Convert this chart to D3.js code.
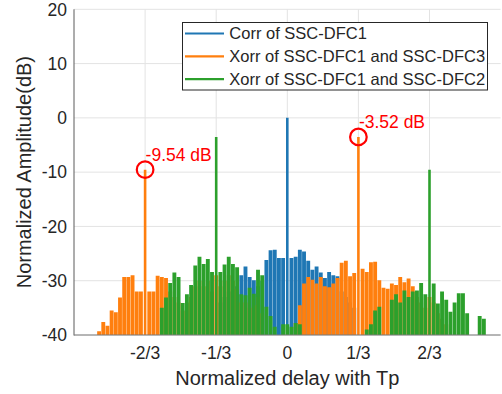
<!DOCTYPE html>
<html>
<head>
<meta charset="utf-8">
<script src="https://cdn.jsdelivr.net/npm/d3@7"></script>
<style>
  body { margin: 0; background: #fff; }
  text { font-family: "Liberation Sans", Arial, sans-serif; fill: #262626; }
  .grid line { stroke: #e3e3e3; stroke-width: 1; }
</style>
</head>
<body>
<script>
//W and H
var w = 502;
var h = 394;

//lag grid: one sample every 1/51 of Tp
var lagStep = 1 / 51;

//Corr of SSC-DFC1, first lag index -16
var corrStart = -16;
var corrVals = [-34, -33, -32, -31.5, -31, -29, -27.4, -29.3, -29.9, -31, -30,
    -26.2, -24.4, -24.3, -25.8, -25.8, 0, -25.8, -25.6, -24.3, -24.6, -26.3,
    -28, -27.4, -28.5, -29.5, -28.4, -29, -29.2, -32, -33, -34, -35];

//Xorr of SSC-DFC1 and SSC-DFC3, first lag index -45
var xorr13Start = -45;
var xorr13Vals = [-39.3, -37.6, -38.3, -35.5, -35.8, -33.1, -29.3, -29.3, -29, -32,
    -32, -9.54, -32, -32, -29.1, -29.3, -29.5,
    -32, -33, -34, -35.5, -34, -33, -31, -30, -31, -30, -32, -29, -31, -30, -29,
    -30, -31.5, -34, -34, -35, -34.5, -33, -36,
    -40, -40, -40, -40, -40, -40, -40,
    -37.8, -34.5, -30.5, -29.3, -29.8, -30.5, -29.3, -31, -31.2, -30.5, -29.5,
    -26.7, -26.3, -29.2, -28.6, -3.52, -27.8, -28.4, -26.6, -26.5, -29.9, -31.3,
    -31.5, -30.5, -30.8, -29.3, -30.3, -29.6, -31,
    -33, -34, -35, -33, -34, -36, -37, -38];

//Xorr of SSC-DFC1 and SSC-DFC2, first lag index -30
var xorr12Start = -30;
var xorr12Vals = [-35, -33.1, -30.4, -28.5, -29.3, -34.1, -32.5, -30.8, -27.2, -25.6,
    -26.9, -26, -28.4, -3.52, -28.4, -27, -25.6, -26.9, -27.5, -32.5, -32.7,
    -31.3, -32.4, -28, -29, -34.8, -36.5, -38.5, -40, -38, -38, -38.5, -37.8, -38,
    -40, -40, -40, -40, -40, -40, -40, -40, -40, -40, -40, -40, -40, -40, -40, -39,
    -38, -35.5, -34.8, -40, -40, -33.5, -32.5, -34, -31.8, -33, -32, -31.8, -30.4,
    -32.5, -9.54, -30.5, -34.2, -32, -33.5, -35.7, -34, -32.3, -32.3, -36, -40,
    -40, -36.5, -37];

var seriesNames = ["Corr of SSC-DFC1", "Xorr of SSC-DFC1 and SSC-DFC3", "Xorr of SSC-DFC1 and SSC-DFC2"];
var seriesColors = ["#1f77b4", "#ff7f0e", "#2ca02c"];

//ticks
var xTickVals = [-2 / 3, -1 / 3, 0, 1 / 3, 2 / 3];
var xTickLabels = ["-2/3", "-1/3", "0", "1/3", "2/3"];
var yTickVals = [-40, -30, -20, -10, 0, 10, 20];

//marked peaks
var markDelay = [-2 / 3, 1 / 3];
var markAmp = [-9.54, -3.52];
var markText = ["-9.54 dB", "-3.52 dB"];

//build points from start index + values
var toPoints = function(start, vals) {
    return vals.map(function(v, i) {
        return { delay: (start + i) * lagStep, amp: v };
    });
};
var series = [
    toPoints(corrStart, corrVals),
    toPoints(xorr13Start, xorr13Vals),
    toPoints(xorr12Start, xorr12Vals)
];

//Scales
var x = d3.scaleLinear().domain([-1, 1]).range([74, 500.6]);
var y = d3.scaleLinear().domain([-40, 20]).range([335, 9.3]);

var svg = d3.select("body").append("svg")
    .attr("width", w)
    .attr("height", h);

svg.append("defs").append("clipPath").attr("id", "plotClip")
    .append("rect")
    .attr("x", x(-1)).attr("y", y(20))
    .attr("width", x(1) - x(-1)).attr("height", y(-40) - y(20));

//grid
var grid = svg.append("g").attr("class", "grid");
grid.selectAll(".gx").data(xTickVals).enter().append("line")
    .attr("x1", function(d) { return x(d); })
    .attr("x2", function(d) { return x(d); })
    .attr("y1", y(-40)).attr("y2", y(20));
grid.selectAll(".gy").data(yTickVals).enter().append("line")
    .attr("x1", x(-1)).attr("x2", x(1))
    .attr("y1", function(d) { return y(d); })
    .attr("y2", function(d) { return y(d); });

//data, drawn as dense stems down to the -40 dB floor
var barW = (x(lagStep) - x(0)) - 0.3;
var plot = svg.append("g").attr("clip-path", "url(#plotClip)");
series.forEach(function(pts, si) {
    plot.append("g").selectAll("line")
        .data(pts.filter(function(d) { return d.amp > -40; }))
        .enter().append("line")
        .attr("x1", function(d) { return x(d.delay); })
        .attr("x2", function(d) { return x(d.delay); })
        .attr("y1", y(-40))
        .attr("y2", function(d) { return y(d.amp); })
        .attr("stroke", seriesColors[si])
        //main peaks are single thin spikes
        .attr("stroke-width", function(d) { return d.amp > -20 ? 2.6 : barW; });
});

//axes lines
svg.append("line")
    .attr("x1", x(-1)).attr("x2", x(-1))
    .attr("y1", y(-40) + 0.5).attr("y2", y(20))
    .attr("stroke", "#5a5a5a").attr("stroke-width", 1);
svg.append("line")
    .attr("x1", x(-1)).attr("x2", x(1))
    .attr("y1", y(-40)).attr("y2", y(-40))
    .attr("stroke", "#7a7a7a").attr("stroke-width", 1);

//tick labels
svg.selectAll(".ytl").data(yTickVals).enter().append("text")
    .attr("x", 67)
    .attr("y", function(d) { return y(d); })
    .attr("dy", "0.36em")
    .attr("text-anchor", "end")
    .style("font-size", "17.5px")
    .text(function(d) { return d; });
svg.selectAll(".xtl").data(xTickVals).enter().append("text")
    .attr("x", function(d) { return x(d); })
    .attr("y", 359)
    .attr("text-anchor", "middle")
    .style("font-size", "17.5px")
    .text(function(d, i) { return xTickLabels[i]; });

//axis titles
svg.append("text")
    .attr("x", x(0))
    .attr("y", 385)
    .attr("text-anchor", "middle")
    .style("font-size", "20px")
    .text("Normalized delay with Tp");
svg.append("text")
    .attr("transform", "translate(31," + ((y(20) + y(-40)) / 2) + ") rotate(-90)")
    .attr("text-anchor", "middle")
    .style("font-size", "20px")
    .text("Normalized Amplitude(dB)");

//peak markers
markDelay.forEach(function(d, i) {
    svg.append("circle")
        .attr("cx", x(d))
        .attr("cy", y(markAmp[i]))
        .attr("r", 8.3)
        .attr("fill", "none")
        .attr("stroke", "#ff0000")
        .attr("stroke-width", 2.2);
    svg.append("text")
        .attr("x", x(d) + 0.5)
        .attr("y", y(markAmp[i]) - 9)
        .style("font-size", "17.5px")
        .style("fill", "#ff0000")
        .text(markText[i]);
});

//legend
var legend = svg.append("g");
legend.append("rect")
    .attr("x", 182.5).attr("y", 22.5)
    .attr("width", 305).attr("height", 67.5)
    .attr("fill", "#fff")
    .attr("stroke", "#262626")
    .attr("stroke-width", 1);
seriesNames.forEach(function(name, i) {
    var ly = 33.5 + i * 22.8;
    legend.append("line")
        .attr("x1", 185).attr("x2", 224)
        .attr("y1", ly).attr("y2", ly)
        .attr("stroke", seriesColors[i])
        .attr("stroke-width", 2.2);
    legend.append("text")
        .attr("x", 229.3)
        .attr("y", ly)
        .attr("dy", "0.36em")
        .style("font-size", "16.5px")
        .text(name);
});
</script>
</body>
</html>
